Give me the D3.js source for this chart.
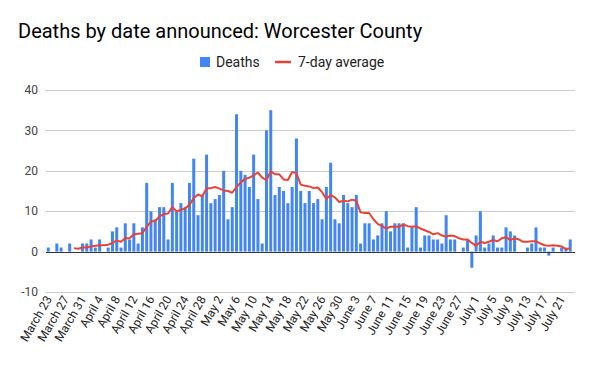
<!DOCTYPE html>
<html><head><meta charset="utf-8">
<script src="https://cdn.jsdelivr.net/npm/d3@7"></script>
<style>
body{margin:0;background:#fff;}
svg{display:block;font-family:Roboto, Arial, sans-serif;}
</style></head>
<body><svg id="c" width="591" height="365"></svg>
<script>
// ---- data ----
const startDate = "2020-03-23";
const deaths = [1,0,2,1,0,2,0,0,2,2,3,1,3,0,1,5,6,1,7,3,7,2,6,17,10,8,11,11,3,17,10,12,11,17,23,9,14,24,12,13,14,20,8,11,34,20,19,16,24,13,2,30,35,14,16,15,12,16,28,15,12,15,12,13,8,16,22,8,7,14,12,11,14,2,7,7,3,4,7,10,5,7,7,7,1,6,11,1,4,4,3,3,2,9,3,3,0,1,3,-4,4,10,1,2,4,1,1,6,5,4,0,0,1,2,6,1,1,-1,1,0,1,1,3];
// 7-day average (null before the first full week)
const avg7 = [null,null,null,null,null,null,0.86,0.71,1.00,1.00,1.29,1.43,1.57,1.57,1.71,2.14,2.71,2.43,3.29,3.29,4.29,4.43,4.57,6.14,7.43,7.57,8.71,9.29,9.43,11.00,10.00,10.29,10.71,11.57,13.29,14.14,13.71,15.71,15.71,16.00,15.57,15.14,15.00,14.57,16.00,17.14,18.00,18.29,18.86,19.57,18.29,17.71,19.86,19.14,19.14,17.86,17.71,19.71,19.43,16.57,16.29,16.14,15.71,15.86,14.71,13.00,14.00,13.43,12.29,12.57,12.43,12.86,12.57,9.71,9.57,9.57,8.00,6.86,6.29,5.71,6.14,6.14,6.14,6.71,6.29,6.14,6.29,5.71,5.29,4.86,4.29,4.57,4.00,3.71,4.00,3.86,3.29,3.00,3.00,2.14,1.43,2.43,2.14,2.43,2.86,2.57,3.29,3.57,2.86,3.29,3.00,2.43,2.43,2.57,2.57,2.00,1.57,1.43,1.57,1.43,1.29,0.57,0.86];
const tickLabels = ["March 23","March 27","March 31","April 4","April 8","April 12","April 16","April 20","April 24","April 28","May 2","May 6","May 10","May 14","May 18","May 22","May 26","May 30","June 3","June 7","June 11","June 15","June 19","June 23","June 27","July 1","July 5","July 9","July 13","July 17","July 21"];
const yTicks = [-10,0,10,20,30,40];
const seriesNames = ["Deaths","7-day average"];
const colors = ["#4285F4","#EA4335"];

// ---- chart ----
const svg = d3.select("#c");
const n = deaths.length;
const days = d3.range(n);
const plotL = 46, plotR = 575;

const x = d3.scaleBand().domain(days).range([45.5, 573]).paddingInner(0.3).paddingOuter(0.3);
const y = d3.scaleLinear().domain([-10, 40]).range([292, 90]);

// title
svg.append("text").attr("x", 18).attr("y", 38)
  .attr("font-size", 20).attr("fill", "#000").text("Deaths by date announced: Worcester County");

// gridlines
svg.append("g").selectAll("line").data(yTicks.filter(d => d !== 0)).join("line")
  .attr("x1", plotL).attr("x2", plotR)
  .attr("y1", d => Math.round(y(d)) + 0.5).attr("y2", d => Math.round(y(d)) + 0.5)
  .attr("stroke", "#cccccc").attr("stroke-width", 1);

// y labels
svg.append("g").selectAll("text").data(yTicks).join("text")
  .attr("x", 38).attr("y", d => y(d)).attr("dy", "0.35em")
  .attr("text-anchor", "end").attr("font-size", 12).attr("fill", "#444")
  .text(d => d);

// bars
svg.append("g").selectAll("rect").data(deaths).join("rect")
  .attr("x", (d, i) => x(i)).attr("width", x.bandwidth())
  .attr("y", d => y(Math.max(0, d))).attr("height", d => Math.abs(y(d) - y(0)))
  .attr("fill", colors[0]);

// zero line
svg.append("line").attr("x1", plotL).attr("x2", plotR)
  .attr("y1", Math.round(y(0)) + 0.5).attr("y2", Math.round(y(0)) + 0.5)
  .attr("stroke", "#333").attr("stroke-width", 1);

// 7-day average
const line = d3.line().defined(d => d != null)
  .x((d, i) => x(i) + x.bandwidth() / 2).y(d => y(d));
svg.append("path").datum(avg7).attr("d", line)
  .attr("fill", "none").attr("stroke", colors[1]).attr("stroke-width", 2)
  .attr("stroke-linejoin", "round");

// x labels
svg.append("g").selectAll("text").data(tickLabels).join("text")
  .attr("transform", (d, k) => `translate(${x(k * 4) + x.bandwidth() / 2 + 4},${299}) rotate(-60)`)
  .attr("text-anchor", "end").attr("font-size", 12).attr("fill", "#222")
  .text(d => d);

// legend
const lg = svg.append("g").attr("font-size", 14).attr("fill", "#222");
lg.append("rect").attr("x", 200).attr("y", 57).attr("width", 10).attr("height", 10).attr("fill", colors[0]);
lg.append("text").attr("x", 216).attr("y", 62).attr("dy", "0.35em").text(seriesNames[0]);
lg.append("line").attr("x1", 275).attr("x2", 291).attr("y1", 62).attr("y2", 62)
  .attr("stroke", colors[1]).attr("stroke-width", 2.5);
lg.append("text").attr("x", 298).attr("y", 62).attr("dy", "0.35em").text(seriesNames[1]);
</script>
</body></html>
